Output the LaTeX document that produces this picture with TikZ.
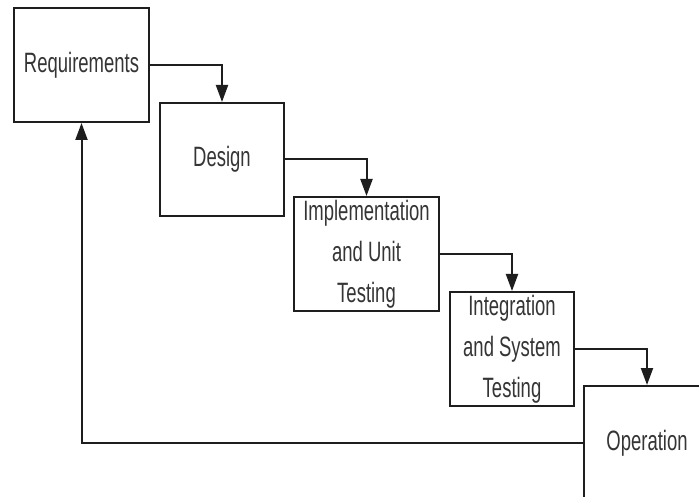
\documentclass[tikz,border=0pt]{standalone}
\usepackage{fontspec}
\usepackage{tikz}
\usetikzlibrary{
  arrows.meta,
  positioning
}
\newfontfamily\stagefont{Liberation Sans}[FakeStretch=0.66]
\definecolor{ink}{HTML}{1E1E1E}
\tikzset{
  stage/.style={
    draw=ink,
    fill=white,
    line width=2pt,
    align=center,
    inner sep=0pt,
    text=ink!90,
    font=\stagefont\fontsize{28}{41}\selectfont
  },
  flow/.style={
    -{Triangle[length=17pt, width=12pt]},
    line width=2pt,
    draw=ink
  }
}

\begin{document}
\begin{tikzpicture}[x=1pt, y=-1pt]
  \useasboundingbox (0,0) rectangle (699,497);
  \clip (0,0) rectangle (699,497);
  \fill[white] (0,0) rectangle (699,497);

  % The five stages, stepping down to the right.
  \node[stage, minimum width=135pt, minimum height=114pt] (req)
    at (81.5,65) {Requirements};
  \node[stage, minimum width=124pt, minimum height=113pt] (design)
    at (222,159.5) {Design};
  \node[stage, minimum width=145pt, minimum height=114pt] (impl)
    at (366.5,254) {Implementation\\and Unit\\Testing};
  \node[stage, minimum width=124pt, minimum height=114pt] (integ)
    at (512,349) {Integration\\and System\\Testing};
  \node[stage, minimum width=126pt, minimum height=114pt] (oper)
    at (647,443) {Operation};

  % Hand-over arrows.
  \draw[flow] (req.east) -| (design.north);
  \draw[flow] (design.east) -| (impl.north);
  \draw[flow] (impl.east) -| (integ.north);
  \draw[flow] (integ.east) -| (oper.north);

  % Feedback back to the start.
  \draw[flow] (oper.west) -| (req.south);
\end{tikzpicture}
\end{document}
